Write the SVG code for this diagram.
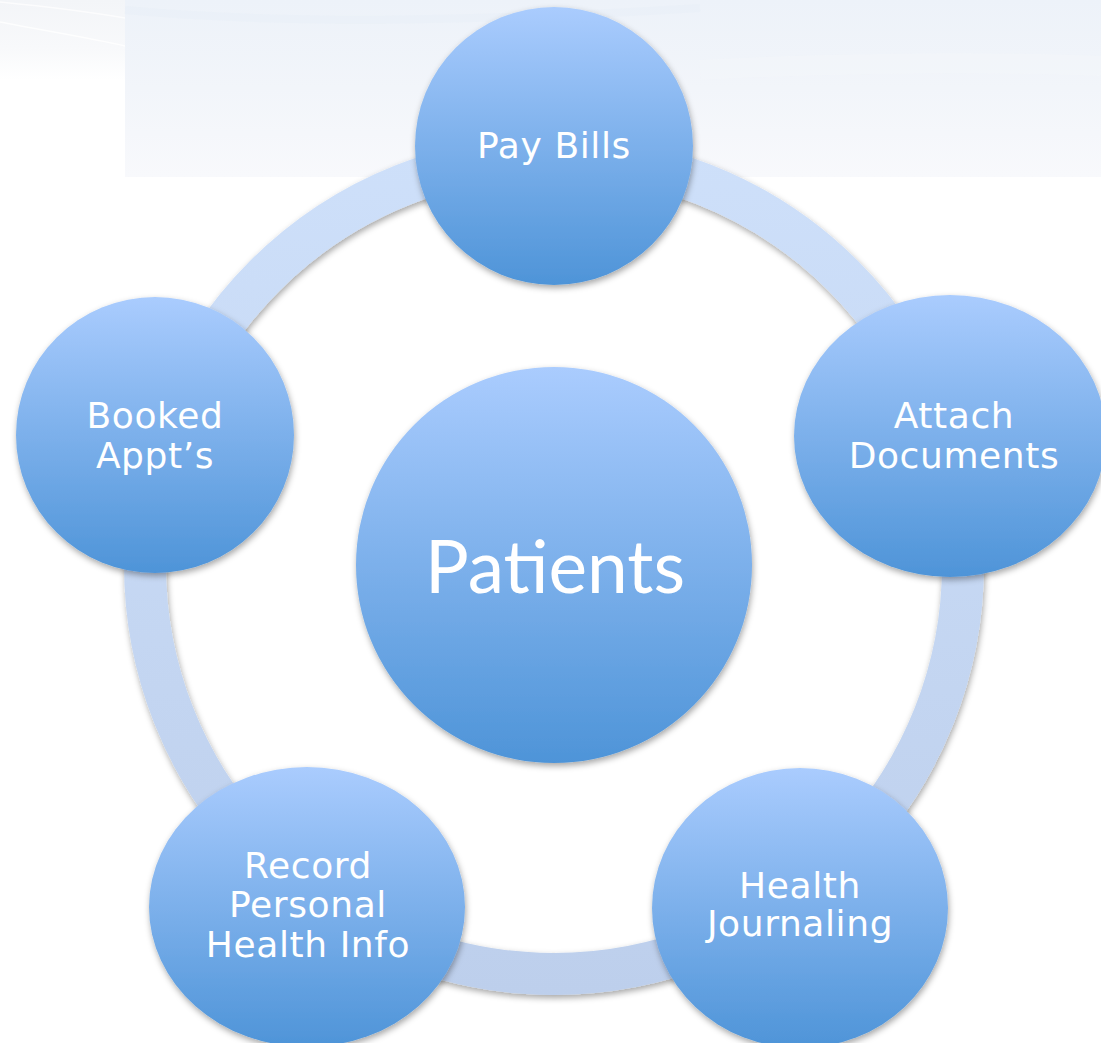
<svg xmlns="http://www.w3.org/2000/svg" width="1101" height="1043" viewBox="0 0 1101 1043">
  <style>
    .node { fill: url(#nodeFill); filter: url(#shadow); }
    .label { font-family: "DejaVu Sans", Verdana, sans-serif; font-size: 36px; letter-spacing: 0.6px; fill: #ffffff; text-anchor: middle; }
    .hub { font-family: Lato, "Open Sans", sans-serif; font-size: 73px; fill: #ffffff; text-anchor: middle; }
  </style>
  <defs>
    <linearGradient id="nodeFill" x1="0" y1="0" x2="0" y2="1">
      <stop offset="0" stop-color="#AACCFE"/>
      <stop offset="1" stop-color="#4E94D8"/>
    </linearGradient>
    <linearGradient id="ringFill" gradientUnits="userSpaceOnUse" x1="0" y1="135" x2="0" y2="995">
      <stop offset="0" stop-color="#CEE0FA"/>
      <stop offset="1" stop-color="#BDCFEC"/>
    </linearGradient>
    <linearGradient id="skyFill" x1="0" y1="0" x2="0" y2="1">
      <stop offset="0" stop-color="#EDF2F9"/>
      <stop offset="0.5" stop-color="#F2F5FA"/>
      <stop offset="1" stop-color="#F8F9FC"/>
    </linearGradient>
    <linearGradient id="sideFill" x1="0" y1="0" x2="0" y2="1">
      <stop offset="0" stop-color="#F3F5F8"/>
      <stop offset="0.6" stop-color="#F8F9FB"/>
      <stop offset="1" stop-color="#FFFFFF"/>
    </linearGradient>
    <filter id="shadow" x="-10%" y="-10%" width="125%" height="125%">
      <feDropShadow dx="1" dy="3" stdDeviation="3" flood-color="#000000" flood-opacity="0.35"/>
    </filter>
  </defs>

  <!-- backdrop -->
  <rect x="0" y="0" width="1101" height="1043" fill="#FFFFFF"/>
  <rect x="0" y="0" width="125" height="80" fill="url(#sideFill)"/>
  <path d="M0 22 C40 30 90 38 125 46" fill="none" stroke="#FFFFFF" stroke-width="1.5" opacity="0.8"/>
  <path d="M0 2 C40 6 90 12 125 18" fill="none" stroke="#FFFFFF" stroke-width="1.5" opacity="0.7"/>
  <rect x="125" y="0" width="976" height="177" fill="url(#skyFill)"/>
  <path d="M125 10 C300 26 500 20 700 8" fill="none" stroke="#E6EEF6" stroke-width="8" opacity="0.35"/>
  <path d="M700 70 C850 62 1000 62 1101 66" fill="none" stroke="#F5F7FB" stroke-width="20" opacity="0.4"/>

  <!-- connecting ring -->
  <g id="connectors">
    <circle cx="554" cy="565" r="409" fill="none" stroke="url(#ringFill)" stroke-width="42" filter="url(#shadow)"/>
  </g>

  <g id="node-patients">
    <circle class="node" cx="554" cy="565" r="198"/>
    <text class="hub" x="555" y="593">Patients</text>
  </g>

  <g id="node-pay-bills">
    <circle class="node" cx="554" cy="146" r="139"/>
    <text class="label" x="554" y="158">Pay Bills</text>
  </g>

  <g id="node-attach-documents">
    <ellipse class="node" cx="950" cy="436" rx="156" ry="141"/>
    <text class="label" x="954" y="428">Attach</text>
    <text class="label" x="954" y="468">Documents</text>
  </g>

  <g id="node-health-journaling">
    <ellipse class="node" cx="800" cy="908" rx="148" ry="140"/>
    <text class="label" x="800" y="898">Health</text>
    <text class="label" x="800" y="936">Journaling</text>
  </g>

  <g id="node-record-info">
    <ellipse class="node" cx="307" cy="907" rx="158" ry="140"/>
    <text class="label" x="308" y="878">Record</text>
    <text class="label" x="308" y="917">Personal</text>
    <text class="label" x="308" y="957">Health Info</text>
  </g>

  <g id="node-booked-appts">
    <ellipse class="node" cx="155" cy="435" rx="139" ry="138"/>
    <text class="label" x="155" y="428">Booked</text>
    <text class="label" x="155" y="468">Appt’s</text>
  </g>
</svg>
